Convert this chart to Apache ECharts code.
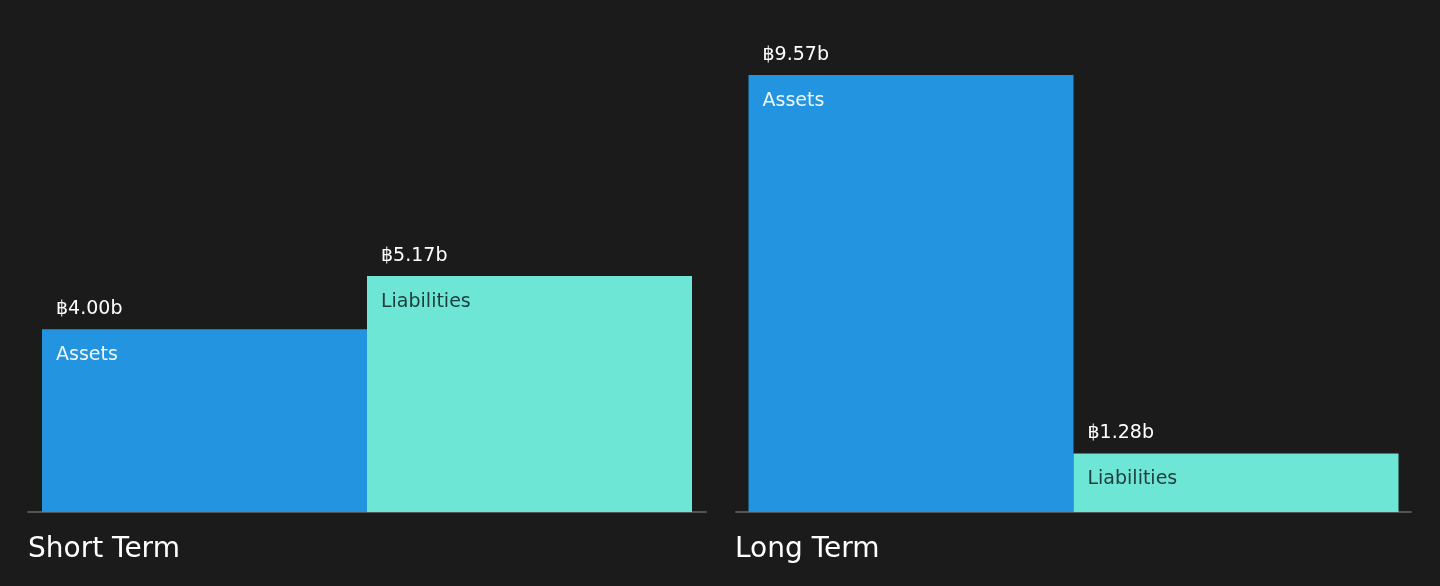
<!DOCTYPE html>
<html>
<head>
<meta charset="utf-8">
<script src="https://cdn.jsdelivr.net/npm/echarts@6/dist/echarts.min.js"></script>
<style>
  html, body { margin: 0; padding: 0; background: #1b1b1b; }
  #main { width: 1440px; height: 586px; }
</style>
</head>
<body>
<div id="main"></div>
<script>
var groups = ['Short Term', 'Long Term'];
var seriesNames = ['Assets', 'Liabilities'];
var assets = [4.00, 9.57];
var liabilities = [5.17, 1.28];
var valueLabels = [['฿4.00b', '฿5.17b'], ['฿9.57b', '฿1.28b']];

var colors = ['#2394df', '#6ee6d6'];
var nameColors = ['#eef6fc', '#1d3c3a'];

var myChart = echarts.init(document.getElementById('main'));

var grids = [
  { left: 28, right: 734, top: 55.4, bottom: 74 },
  { left: 736, right: 29, top: 55.4, bottom: 74 }
];

var xAxes = [], yAxes = [], series = [], titles = [];
for (var g = 0; g < groups.length; g++) {
  xAxes.push({
    type: 'category',
    gridIndex: g,
    data: [groups[g]],
    axisLine: { lineStyle: { color: '#555555', width: 2 } },
    axisTick: { show: false },
    axisLabel: { show: false }
  });
  yAxes.push({
    type: 'value',
    gridIndex: g,
    min: 0,
    max: 10,
    show: false,
    splitLine: { show: false }
  });
  titles.push({
    text: groups[g],
    left: grids[g].left - (g ? 1 : 0),
    top: 536,
    padding: 0,
    textStyle: { color: '#ffffff', fontSize: 28, fontWeight: 'normal', fontFamily: 'DejaVu Sans' }
  });
  var vals = [assets[g], liabilities[g]];
  for (var s = 0; s < seriesNames.length; s++) {
    series.push({
      name: seriesNames[s],
      type: 'bar',
      xAxisIndex: g,
      yAxisIndex: g,
      barWidth: 325,
      barGap: '0%',
      data: [vals[s]],
      itemStyle: { color: colors[s] },
      silent: true,
      label: {
        show: true,
        position: [14, -43],
        align: 'left',
        verticalAlign: 'top',
        fontFamily: 'DejaVu Sans',
        formatter: '{v|' + valueLabels[g][s] + '}\n{n|' + seriesNames[s] + '}',
        rich: {
          v: { color: '#ffffff', fontSize: 19, lineHeight: 46, fontFamily: 'DejaVu Sans' },
          n: { color: nameColors[s], fontSize: 19, lineHeight: 46, fontFamily: 'DejaVu Sans' }
        }
      }
    });
  }
}

var option = {
  backgroundColor: '#1b1b1b',
  animation: false,
  title: titles,
  grid: grids,
  xAxis: xAxes,
  yAxis: yAxes,
  series: series
};
myChart.setOption(option);
</script>
</body>
</html>
